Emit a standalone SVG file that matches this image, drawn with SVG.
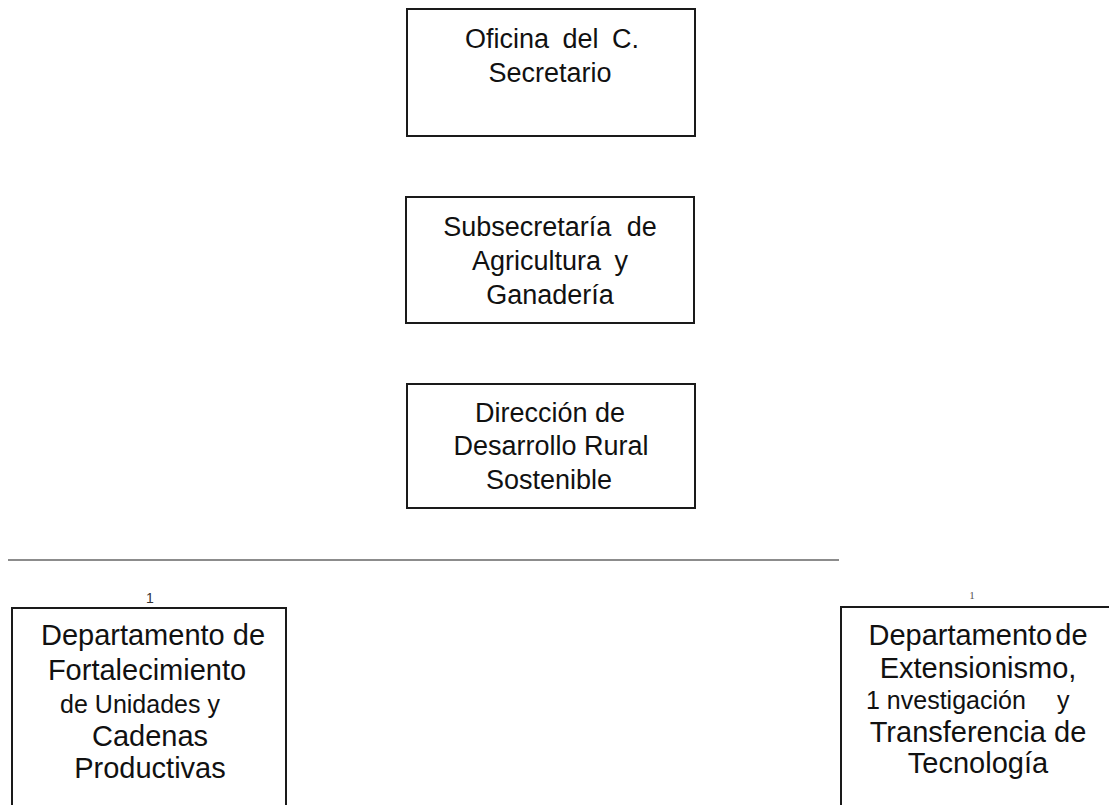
<svg xmlns="http://www.w3.org/2000/svg" width="1109" height="805" viewBox="0 0 1109 805">
<style>
.box{fill:#fff;stroke:#1a1a1a;stroke-width:2}
.open{fill:none;stroke:#1a1a1a;stroke-width:2}
.t{font-family:"Liberation Sans",Arial,sans-serif;font-size:27px;fill:#111;text-anchor:middle}
.b{font-family:"Liberation Sans",Arial,sans-serif;font-size:29px;fill:#111;text-anchor:middle}
.s{font-family:"Liberation Sans",Arial,sans-serif;font-size:25px;fill:#111;text-anchor:middle}
.conn{stroke:#666;stroke-width:1.6;fill:none}
</style>
<rect width="1109" height="805" fill="#fff"/>
<g id="connectors">
<line class="conn" x1="8" y1="560" x2="839" y2="560"/>
</g>
<g id="n1">
<rect class="box" x="407" y="9" width="288" height="127"/>
<text class="t" x="552" y="48" word-spacing="6">Oficina del C.</text>
<text class="t" x="550" y="82">Secretario</text>
</g>
<g id="n2">
<rect class="box" x="406" y="197" width="288" height="126"/>
<text class="t" x="550" y="236" word-spacing="8">Subsecretaría de</text>
<text class="t" x="550" y="270" word-spacing="6">Agricultura y</text>
<text class="t" x="550" y="304">Ganadería</text>
</g>
<g id="n3">
<rect class="box" x="407" y="384" width="288" height="124"/>
<text class="t" x="550" y="422">Dirección de</text>
<text class="t" x="551" y="455">Desarrollo Rural</text>
<text class="t" x="549" y="489">Sostenible</text>
</g>
<g id="n4">
<text x="150" y="603" font-family="Liberation Sans, Arial, sans-serif" font-size="14" fill="#333" text-anchor="middle">1</text>
<path class="open" d="M12,805 V608 H286 V805"/>
<text class="b" x="153" y="645">Departamento de</text>
<text class="b" x="147" y="680">Fortalecimiento</text>
<text class="s" x="140" y="713">de Unidades y</text>
<text class="b" x="150" y="746">Cadenas</text>
<text class="b" x="150" y="778">Productivas</text>
</g>
<g id="n5">
<text x="972" y="599" font-family="Liberation Serif, serif" font-size="11" fill="#555" text-anchor="middle">1</text>
<path class="open" d="M841,805 V607 H1110"/>
<text class="b" x="978" y="645" word-spacing="-5">Departamento de</text>
<text class="b" x="978" y="678">Extensionismo,</text>
<text class="s" y="709" style="text-anchor:start"><tspan x="866">1 nvestigación</tspan><tspan x="1057">y</tspan></text>
<text class="b" x="978" y="742">Transferencia de</text>
<text class="b" x="978" y="773">Tecnología</text>
</g>
</svg>
